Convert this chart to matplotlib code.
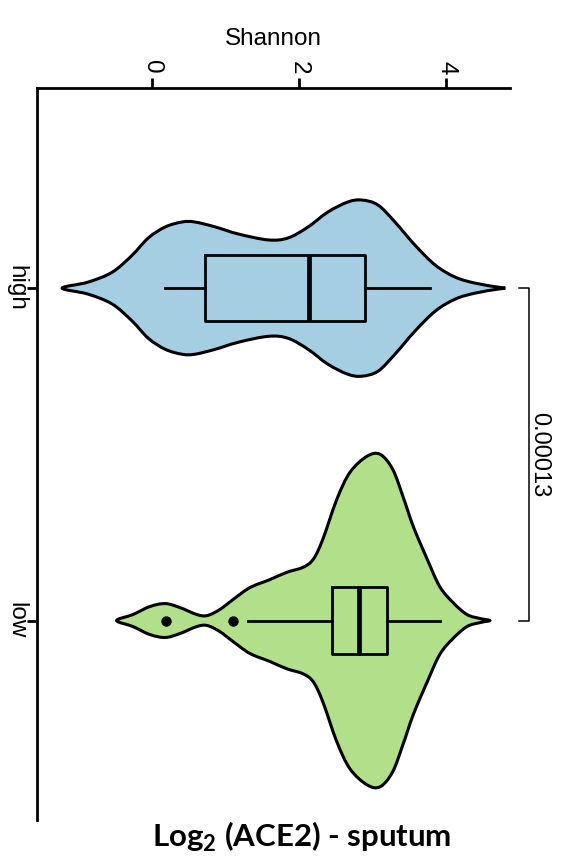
import numpy as np
import matplotlib.pyplot as plt
from matplotlib.path import Path
from matplotlib.patches import PathPatch

plt.rcParams['font.family'] = ['Liberation Sans', 'DejaVu Sans']
plt.rcParams['mathtext.fontset'] = 'custom'
plt.rcParams['mathtext.bf'] = 'Lato:bold'
plt.rcParams['mathtext.rm'] = 'Lato'

groups = ['high', 'low']
colors = ['#A6CEE3', '#B2DF8A']
positions = [1, 2]

# violin outlines: Shannon value and half-width of the density
high_shannon = [-1.22, -0.87, -0.54, -0.27, -0.05, 0.18, 0.41, 0.58, 0.86, 1.17, 1.58, 1.85,
                2.12, 2.39, 2.66, 2.85, 3.07, 3.30, 3.57, 3.85, 4.12, 4.39, 4.70, 4.80]
high_halfwidth = [0, 0.018, 0.048, 0.099, 0.151, 0.184, 0.199, 0.199, 0.184, 0.163, 0.145, 0.151,
                  0.184, 0.229, 0.259, 0.265, 0.250, 0.199, 0.130, 0.069, 0.033, 0.015, 0.003, 0]

low_shannon = [-0.48, -0.26, -0.03, 0.18, 0.38, 0.61, 0.75, 0.92, 1.10, 1.33, 1.60, 1.83, 2.05, 2.19,
               2.32, 2.51, 2.69, 2.92, 3.10, 3.27, 3.41, 3.55, 3.74, 3.91, 4.09, 4.28, 4.46, 4.59]
low_halfwidth = [0, 0.018, 0.042, 0.051, 0.039, 0.018, 0.015, 0.033, 0.063, 0.099, 0.123, 0.145, 0.160, 0.184,
                 0.244, 0.364, 0.446, 0.494, 0.500, 0.455, 0.373, 0.283, 0.184, 0.102, 0.054, 0.018, 0.006, 0]

# box summaries
high_box = dict(whislo=0.18, q1=0.72, med=2.13, q3=2.89, whishi=3.78, fliers=[])
low_box = dict(whislo=1.30, q1=2.45, med=2.81, q3=3.19, whishi=3.91, fliers=[0.19, 1.10])

p_value = '0.00013'


def violin_path(vals, hw, pos):
    vals = np.asarray(vals, float)
    hw = np.asarray(hw, float)
    upper = np.column_stack([vals, pos - hw])
    lower = np.column_stack([vals[::-1], pos + hw[::-1]])[1:-1]
    pts = np.vstack([upper, lower])
    n = len(pts)
    verts = [pts[0]]
    codes = [Path.MOVETO]
    # closed Catmull-Rom curve turned into cubic Beziers
    for i in range(n):
        p0, p1, p2, p3 = pts[i - 1], pts[i], pts[(i + 1) % n], pts[(i + 2) % n]
        verts += [p1 + (p2 - p0) / 6, p2 - (p3 - p1) / 6, p2]
        codes += [Path.CURVE4] * 3
    verts.append(pts[0])
    codes.append(Path.CLOSEPOLY)
    return Path(verts, codes)


fig = plt.figure(figsize=(5.72, 8.66), dpi=100)
ax = fig.add_axes([37 / 572, 1 - 820 / 866, 473 / 572, 732 / 866])

for vals, hw, pos, col in [(high_shannon, high_halfwidth, 1, colors[0]),
                           (low_shannon, low_halfwidth, 2, colors[1])]:
    ax.add_patch(PathPatch(violin_path(vals, hw, pos), facecolor=col, edgecolor='black',
                           lw=2.2, clip_on=False, zorder=2))

bp = ax.bxp([high_box, low_box], positions=positions, widths=0.2, orientation='horizontal',
            showcaps=False, manage_ticks=False,
            boxprops=dict(color='black', lw=2.0),
            whiskerprops=dict(color='black', lw=2.0),
            medianprops=dict(color='black', lw=3.4),
            flierprops=dict(marker='o', markerfacecolor='black', markeredgecolor='black',
                            markersize=6.5))
for key in bp:
    for artist in bp[key]:
        artist.set_zorder(3)

# significance bracket
bx, tick = 5.12, 0.13
ax.plot([bx - tick, bx, bx, bx - tick], [1, 1, 2, 2], color='black', lw=1.1, clip_on=False)
ax.text(bx + 0.14, 1.5, p_value, rotation=-90, ha='center', va='center', fontsize=17)

ax.set_xlim(-1.5625, 4.864)
ax.set_ylim(2.6, 0.398)

for side in ['right', 'bottom']:
    ax.spines[side].set_visible(False)
for side in ['top', 'left']:
    ax.spines[side].set_linewidth(2.0)

ax.xaxis.tick_top()
ax.xaxis.set_label_position('top')
ax.set_xticks([0, 2, 4])
ax.set_xlabel('Shannon', fontsize=17.5, labelpad=11)
ax.tick_params(axis='x', length=7, width=2, labelsize=17.5, labelrotation=-90, pad=3)

ax.set_yticks(positions, groups)
ax.tick_params(axis='y', length=7, width=2, labelsize=17.5, labelrotation=-90, pad=0)
for lbl in ax.get_yticklabels():
    lbl.set_va('center')

fig.text(302 / 572, 1 - 847 / 866, r'Log$_{\mathbf{2}}$ (ACE2) - sputum', ha='center', va='baseline',
         fontsize=22.5, fontweight='bold', family='Lato')

fig.savefig('out.png', dpi=100)
